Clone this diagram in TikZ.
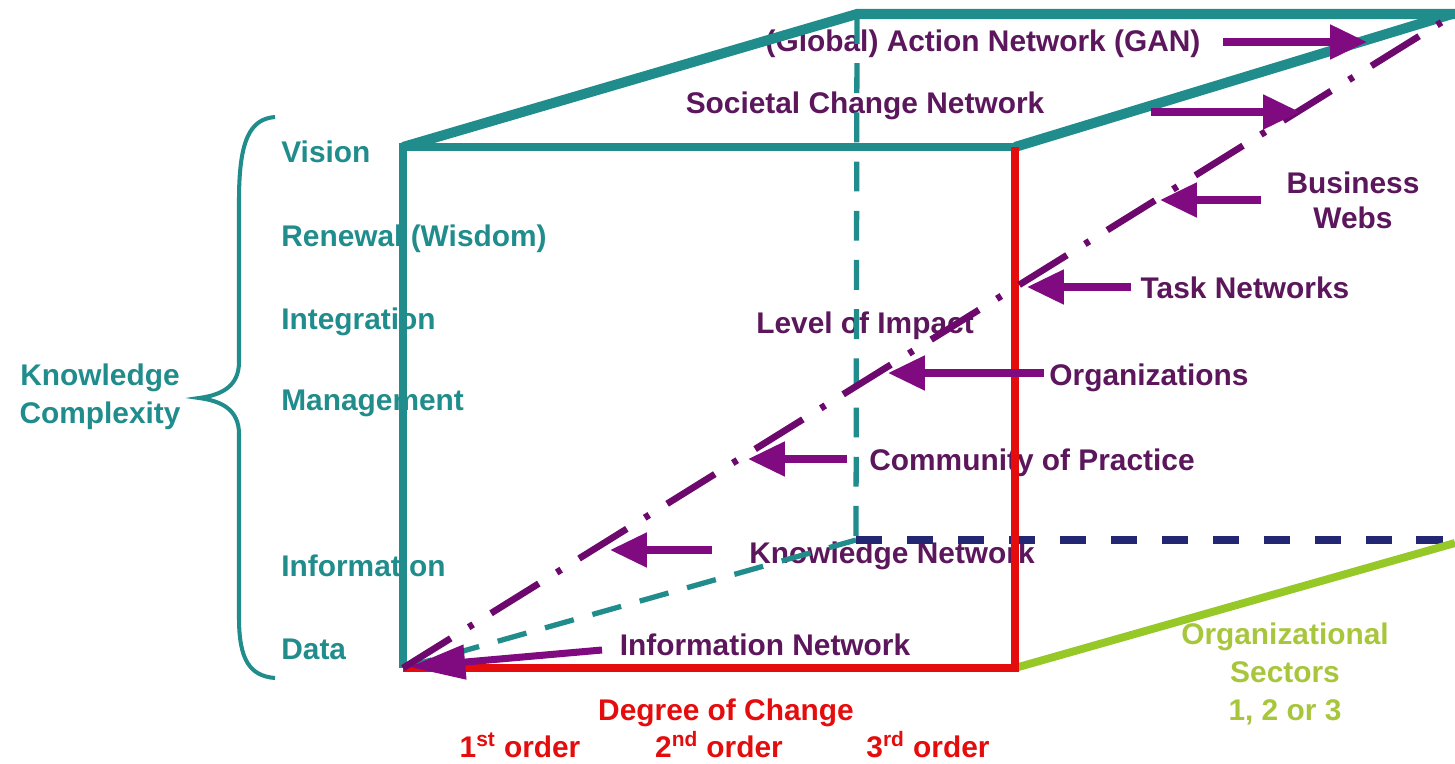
\documentclass[tikz,border=0pt]{standalone}
\usepackage{fontspec}
\setmainfont{Liberation Sans}
\usetikzlibrary{arrows.meta}
\definecolor{kteal}{RGB}{32,140,140}
\definecolor{kpurple}{RGB}{128,10,128}
\definecolor{kplum}{RGB}{92,22,92}
\definecolor{kred}{RGB}{228,12,12}
\definecolor{kgreen}{RGB}{150,200,40}
\definecolor{ksector}{RGB}{168,198,60}
\definecolor{knavy}{RGB}{35,38,115}

\begin{document}
\begin{tikzpicture}[x=0.02cm,y=-0.02cm,
		txt/.style={font=\bfseries\fontsize{17}{21.5}\selectfont, inner sep=0pt},
		one/.style={txt, text height=12pt, text depth=0pt},
		level/.style={one, text=kteal, anchor=west},
		net/.style={one, text=kplum},
		order/.style={one, text=kred},
		arr/.style={kpurple, line width=4pt, -{Triangle[length=21pt,width=19pt]}},
		backdash/.style={kteal, line width=3pt, dash pattern=on 17pt off 11pt}]
	\useasboundingbox (0,0) rectangle (1455,764);

	% corners of the cube
	\coordinate (ftl) at (403,147);
	\coordinate (ftr) at (1015,147);
	\coordinate (fbl) at (403,668);
	\coordinate (fbr) at (1015,668);
	\coordinate (btl) at (857,14);
	\coordinate (btr) at (1455,14);
	\coordinate (bbl) at (856,540);
	\coordinate (bbr) at (1455,540);
	\coordinate (bgr) at (1455,543);
	\coordinate (tip) at (1450,17);

	% knowledge levels
	\draw (281,152) node [level] (vision) {Vision};
	\draw (281,236) node [level] (renewal) {Renewal (Wisdom)};
	\draw (281,319) node [level] (integ) {Integration};
	\draw (281,400) node [level] (manage) {Management};
	\draw (281,566) node [level] (inform) {Information};
	\draw (281,649) node [level] (data) {Data};
	\draw (100,397) node [txt, text=kteal, align=center] (kc) {Knowledge\\Complexity};

	% networks
	\draw (983,41) node [net] (gan) {(Global) Action Network (GAN)};
	\draw (865,103) node [net] (soc) {Societal Change Network};
	\draw (1353,200) node [txt, text=kplum, align=center] (bw) {Business\\[-1.5pt]Webs};
	\draw (1245,288) node [net] (task) {Task Networks};
	\draw (865,323) node [net] (impact) {Level of Impact};
	\draw (1149,375) node [net] (org) {Organizations};
	\draw (1032,460) node [net] (cop) {Community of Practice};
	\draw (892,553) node [net] (kn) {Knowledge Network};
	\draw (765,645) node [net] (inet) {Information Network};

	% axes
	\draw (726,710) node [order] (degree) {Degree of Change};
	\draw (520,747) node [order] (o1) {1\textsuperscript{st} order};
	\draw (719,747) node [order] (o2) {2\textsuperscript{nd} order};
	\draw (928,747) node [order] (o3) {3\textsuperscript{rd} order};
	\draw (1285,674) node [txt, text=ksector, align=center] (sect) {Organizational\\Sectors\\1, 2 or 3};

	% brace
	\draw [kteal, line width=2.3pt] (275,117) .. controls (250,119) and (239,140) .. (239,200)
		-- (239,362) .. controls (239,386) and (222,395) .. (199,398)
		.. controls (222,401) and (239,410) .. (239,434)
		-- (239,618) .. controls (239,660) and (250,676) .. (275,678);

	% back of the cube
	\draw [kteal, line width=5.7pt] (ftl) -- (btl) -- (btr);
	\draw [kteal, line width=5.7pt] (ftr) -- (1452,14);
	\draw [backdash] (btl) -- (bbl);
	\draw [backdash] (fbl) -- (bbl);
	\draw [knavy, line width=4pt, dash pattern=on 15pt off 14pt] (bbl) -- (bbr);
	\draw [kgreen, line width=4.5pt] (fbr) -- (bgr);

	% front of the cube
	\draw [kteal, line width=5pt] (fbl) -- (ftl) -- (ftr);
	\draw [kred, line width=4.6pt] (fbl) -- (fbr) -- (ftr);

	% level of impact
	\draw [kpurple!85!black, line width=3.8pt, dash pattern=on 32pt off 12pt on 3pt off 12pt] (fbl) -- (tip);

	\coordinate (gan0) at (1223,42);   \coordinate (gan1) at (1367,42);
	\coordinate (soc0) at (1151,112);  \coordinate (soc1) at (1300,112);
	\coordinate (bw0) at (1261,200);   \coordinate (bw1) at (1160,200);
	\coordinate (task0) at (1131,287); \coordinate (task1) at (1027,287);
	\coordinate (org0) at (1044,373);  \coordinate (org1) at (888,373);
	\coordinate (cop0) at (847,459);   \coordinate (cop1) at (748,459);
	\coordinate (kn0) at (712,550);    \coordinate (kn1) at (610,550);
	\coordinate (inet0) at (602,650);  \coordinate (inet1) at (409,667);

	\draw
		(gan0) edge [arr] (gan1)
		(soc0) edge [arr] (soc1)
		(bw0) edge [arr] (bw1)
		(task0) edge [arr] (task1)
		(org0) edge [arr] (org1)
		(cop0) edge [arr] (cop1)
		(kn0) edge [arr] (kn1)
		(inet0) edge [arr, -{Triangle[length=32pt,width=19pt]}] (inet1)
	;
\end{tikzpicture}
\end{document}
